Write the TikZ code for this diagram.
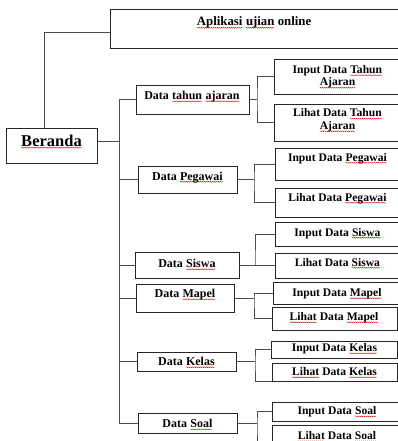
\documentclass[tikz,border=0pt]{standalone}
\usepackage{fontspec}
\setmainfont{Liberation Serif}
\usetikzlibrary{fit,decorations.pathmorphing}
\newcommand\sq[1]{\tikz[baseline=(sqw.base)]{\node[inner sep=0pt,outer sep=0pt](sqw){#1};\draw[red!80!black,line width=0.35pt,decorate,decoration={snake,amplitude=0.45pt,segment length=2pt}]([yshift=-1.8pt]sqw.base west)--([yshift=-1.8pt]sqw.base east);}}
\tikzset{
  box/.style={draw=black!85, line width=0.9pt, inner sep=0pt},
  conn/.style={draw=black!70, line width=0.9pt},
  lbl/.style={anchor=base, inner sep=0pt, font=\bfseries\fontsize{11.6}{12.6}\selectfont, align=center},
  mlbl/.style={lbl, font=\bfseries\fontsize{12}{13}\selectfont},
}
\begin{document}
\begin{tikzpicture}[x=1pt,y=-1pt]
\useasboundingbox (0,0) rectangle (398,441);
\clip (0,0) rectangle (398,441);
% boxes
\node[box, fit={(110,9) (402,48)}] (apl) {};
\node[box, fit={(6,128) (97,163)}] (ber) {};
\node[box, fit={(136,85) (249,114)}] (m1) {};
\node[box, fit={(138,166) (237,193)}] (m2) {};
\node[box, fit={(135,252) (239,278)}] (m3) {};
\node[box, fit={(136,284) (234,312)}] (m4) {};
\node[box, fit={(137,352) (236,371)}] (m5) {};
\node[box, fit={(138,413) (237,433)}] (m6) {};
\node[box, fit={(274,59) (402,94)}] (r1a) {};
\node[box, fit={(274,104) (402,141)}] (r1b) {};
\node[box, fit={(275,148) (402,180)}] (r2a) {};
\node[box, fit={(275,188) (402,217)}] (r2b) {};
\node[box, fit={(275,222) (402,246)}] (r3a) {};
\node[box, fit={(275,253) (402,278)}] (r3b) {};
\node[box, fit={(273,282) (402,304)}] (r4a) {};
\node[box, fit={(272,307) (397,330)}] (r4b) {};
\node[box, fit={(271,341) (397,358)}] (r5a) {};
\node[box, fit={(272,363) (397,381)}] (r5b) {};
\node[box, fit={(272,402) (402,421)}] (r6a) {};
\node[box, fit={(272,425) (402,470)}] (r6b) {};
% texts
\node[lbl, font=\bfseries\fontsize{12.8}{14}\selectfont] (tapl) at (254,26) {\sq{Aplikasi} \sq{ujian} online};
\node[lbl, font=\bfseries\fontsize{16.5}{18}\selectfont] (tber) at (51.5,146) {\sq{Beranda}};
\node[mlbl] (tm1) at (192,99.5) {Data \sq{tahun} \sq{ajaran}};
\node[mlbl] (tm2) at (187.5,180) {Data \sq{Pegawai}};
\node[mlbl] (tm3) at (187,267.5) {Data \sq{Siswa}};
\node[mlbl] (tm4) at (185,297.5) {Data \sq{Mapel}};
\node[mlbl] (tm5) at (186.5,365.5) {Data \sq{Kelas}};
\node[mlbl] (tm6) at (187.5,427.5) {Data \sq{Soal}};
\node[lbl] (tr1a) at (337.5,86) {Input Data \sq{Tahun}\\\sq{Ajaran}};
\node[lbl] (tr1b) at (337.5,129.5) {Lihat Data \sq{Tahun}\\\sq{Ajaran}};
\node[lbl] (tr2a) at (337.5,161) {Input Data \sq{Pegawai}};
\node[lbl] (tr2b) at (337.5,201) {Lihat Data \sq{Pegawai}};
\node[lbl] (tr3a) at (337.5,236) {Input Data \sq{Siswa}};
\node[lbl] (tr3b) at (337.5,266) {Lihat Data \sq{Siswa}};
\node[lbl] (tr4a) at (337,296.5) {Input Data \sq{Mapel}};
\node[lbl] (tr4b) at (334,320.5) {\sq{Lihat} Data \sq{Mapel}};
\node[lbl] (tr5a) at (334.5,351.5) {Input Data \sq{Kelas}};
\node[lbl] (tr5b) at (334.5,375.5) {\sq{Lihat} Data \sq{Kelas}};
\node[lbl] (tr6a) at (337,414.5) {Input Data \sq{Soal}};
\node[lbl] (tr6b) at (337,439.5) {\sq{Lihat} Data \sq{Soal}};
% connectors
\coordinate (tx) at (119,0);
\draw[conn] ([xshift=-7.5pt]ber.north) |- ([yshift=-4pt]apl.west);
\draw[conn] ([yshift=4pt]ber.east) -- ([yshift=4pt]ber.east -| tx);
\draw[conn] (m1.west -| tx) -- (m6.west -| tx);
\foreach \m in {m1,m2,m3,m4,m5,m6} {\draw[conn] (\m.west -| tx) -- (\m.west);}
\coordinate (j1) at (257,99.5);
\coordinate (j2) at (254,179.5);
\coordinate (j3) at (255,265);
\coordinate (j4) at (254,298);
\coordinate (j5) at (255,361.5);
\coordinate (j6) at (257,423);
\draw[conn] (m1.east) -- (j1);
\draw[conn] (r1a.west) -| (j1) |- (r1b.west);
\draw[conn] (m2.east) -- (j2);
\draw[conn] (r2a.west) -| (j2) |- (r2b.west);
\draw[conn] (m3.east) -- (j3);
\draw[conn] (r3a.west) -| (j3) |- (r3b.west);
\draw[conn] (m4.east) -- (j4);
\draw[conn] (r4a.west) -| (j4) |- (r4b.west);
\draw[conn] (m5.east) -- (j5);
\draw[conn] (r5a.west) -| (j5) |- (r5b.south west);
\draw[conn] (m6.east) -- (j6);
\draw[conn] (r6a.west) -| (j6) |- (r6b.west);
\end{tikzpicture}
\end{document}
